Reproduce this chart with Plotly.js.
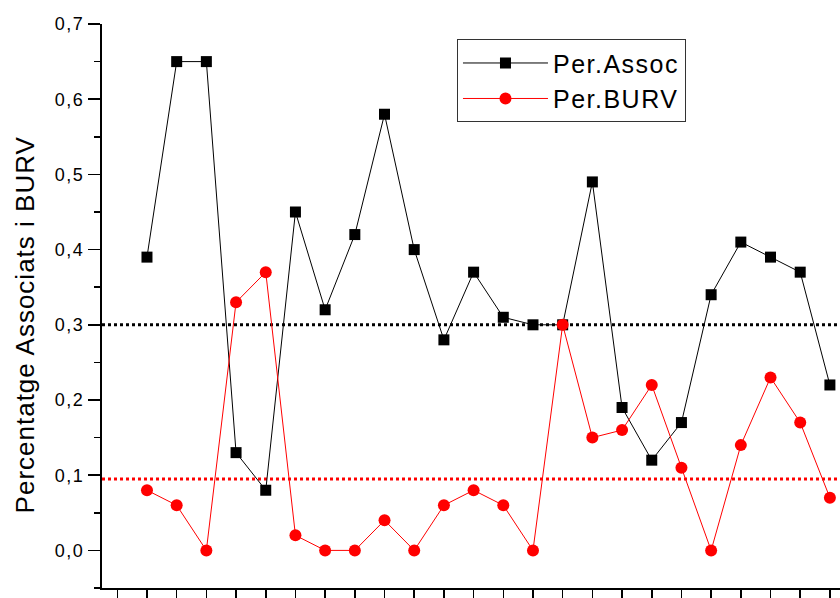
<!DOCTYPE html>
<html><head><meta charset="utf-8">
<script src="https://cdn.plot.ly/plotly-3.0.1.min.js"></script>
<style>
html,body{margin:0;padding:0;background:#fff}#chart{width:840px;height:598px}
.legendtext{letter-spacing:1.5px}
.ytick text{letter-spacing:1.5px}
.annotation-text{letter-spacing:1px}
</style>
</head><body><div id="chart"></div>
<script>
const xIdx = [1,2,3,4,5,6,7,8,9,10,11,12,13,14,15,16,17,18,19,20,21,22,23,24];
const perAssoc = [0.39,0.65,0.65,0.13,0.08,0.45,0.32,0.42,0.58,0.40,0.28,0.37,0.31,0.30,0.30,0.49,0.19,0.12,0.17,0.34,0.41,0.39,0.37,0.22];
const perBURV = [0.08,0.06,0.00,0.33,0.37,0.02,0.00,0.00,0.04,0.00,0.06,0.08,0.06,0.00,0.30,0.15,0.16,0.22,0.11,0.00,0.14,0.23,0.17,0.07];
const meanAssoc = 0.30;
const meanBURV = 0.095;
const seriesNames = ['Per.Assoc','Per.BURV'];
const yTitle = 'Percentatge Associats i BURV';

const traces = [
  {x: xIdx, y: perAssoc, name: seriesNames[0], mode: 'lines+markers',
   line: {color: '#000', width: 1}, marker: {symbol: 'square', size: 11, color: '#000'}},
  {x: xIdx, y: perBURV, name: seriesNames[1], mode: 'lines+markers',
   line: {color: '#ff0000', width: 1}, marker: {symbol: 'circle', size: 12, color: '#ff0000'}}
];
const layout = {
  width: 840, height: 598,
  margin: {l: 102, r: 0, t: 24, b: 10},
  paper_bgcolor: '#fff', plot_bgcolor: '#fff',
  separators: ',.',
  font: {family: 'Liberation Sans, Arial, sans-serif', color: '#000', size: 18},
  showlegend: true,
  legend: {x: 0.481, y: 0.973, xanchor: 'left', yanchor: 'top', bordercolor: '#333', borderwidth: 1,
           bgcolor: '#fff', font: {size: 25}, tracegroupgap: 0, itemwidth: 85, entrywidth: 236, entrywidthmode: 'pixels'},
  xaxis: {range: [-0.515, 24.34], showgrid: false, zeroline: false, showline: true, linecolor: '#000', linewidth: 2,
          ticks: 'outside', tickvals: [0,1,2,3,4,5,6,7,8,9,10,11,12,13,14,15,16,17,18,19,20,21,22,23,24],
          ticklen: 10, tickwidth: 1.5, tickcolor: '#000', showticklabels: false},
  yaxis: {range: [-0.05, 0.7], showgrid: false, zeroline: false, showline: true, linecolor: '#000', linewidth: 2,
          ticks: 'outside', dtick: 0.1, tick0: 0, ticklen: 12, tickwidth: 1.5, tickcolor: '#000',
          tickformat: '.1f', tickfont: {size: 18},
          minor: {dtick: 0.05, tick0: 0, ticks: 'outside', ticklen: 6, tickwidth: 1.5, tickcolor: '#000', showgrid: false}},
  annotations: [
    {text: yTitle, textangle: -90, xref: 'paper', yref: 'paper', x: -0.104, y: 0.466,
     xanchor: 'center', yanchor: 'middle', showarrow: false, font: {size: 26, color: '#000'}}
  ],
  shapes: [
    {type: 'line', xref: 'paper', x0: 0, x1: 1, yref: 'y', y0: meanAssoc, y1: meanAssoc,
     line: {color: '#000', width: 3, dash: 'dot'}, layer: 'below'},
    {type: 'line', xref: 'paper', x0: 0, x1: 1, yref: 'y', y0: meanBURV, y1: meanBURV,
     line: {color: '#ff0000', width: 3, dash: 'dot'}, layer: 'below'}
  ]
};
Plotly.newPlot('chart', traces, layout, {displayModeBar: false, staticPlot: true});
</script></body></html>
